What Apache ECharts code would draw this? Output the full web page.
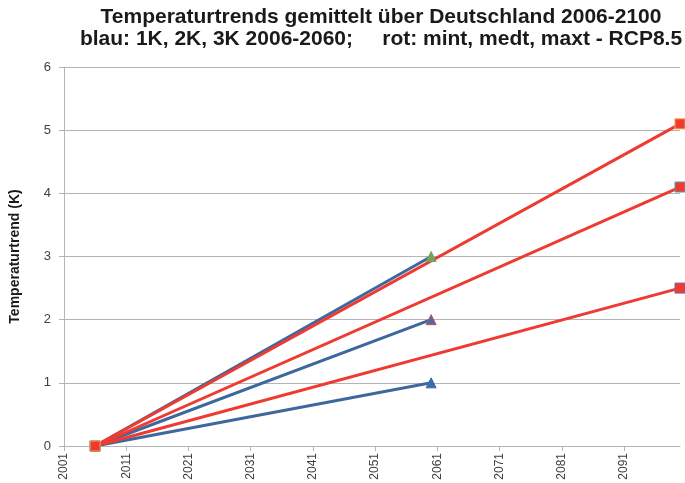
<!DOCTYPE html>
<html>
<head>
<meta charset="utf-8">
<script src="https://cdn.jsdelivr.net/npm/echarts@6/dist/echarts.min.js"></script>
<style>
html,body{margin:0;padding:0;background:#fff;}
#c{width:685px;height:483px;}
</style>
</head>
<body>
<div id="c"></div>
<script>
const xTicks = [2001, 2011, 2021, 2031, 2041, 2051, 2061, 2071, 2081, 2091];
const yTicks = [0, 1, 2, 3, 4, 5, 6];
const blueYears = [2006, 2060];
const redYears = [2006, 2100];
const blue1K = [0, 1];
const blue2K = [0, 2];
const blue3K = [0, 3];
const redMint = [0, 2.5];
const redMedt = [0, 4.1];
const redMaxt = [0, 5.1];

const BLUE = '#3d689d';
const RED = '#ef3a32';
const FONT = 'Liberation Sans, Arial, sans-serif';

function pairs(xs, ys) { return xs.map((x, i) => [x, ys[i]]); }

function mk(name, xs, ys, color, symbol, fill, border, size) {
  return {
    name: name, type: 'line', data: pairs(xs, ys),
    lineStyle: { color: color, width: 3 },
    symbol: symbol, symbolSize: size, showAllSymbol: true,
    itemStyle: { color: fill, borderColor: border, borderWidth: 1 },
    emphasis: { disabled: true }, animation: false, z: 2
  };
}

const chart = echarts.init(document.getElementById('c'), null, { renderer: 'canvas' });
chart.setOption({
  animation: false,
  backgroundColor: '#fff',
  title: {
    text: 'Temperaturtrends gemittelt über Deutschland 2006-2100\nblau: 1K, 2K, 3K 2006-2060;     rot: mint, medt, maxt - RCP8.5',
    left: 376, top: 1, textAlign: 'center',
    textStyle: { fontFamily: FONT, fontSize: 21, fontWeight: 'bold', color: '#1a1a1a', lineHeight: 22 }
  },
  grid: { left: 64, right: 5, top: 67, bottom: 37, containLabel: false },
  xAxis: {
    type: 'value', min: 2001, max: 2100,
    axisLine: { show: true, lineStyle: { color: '#b4b4b4', width: 1 } },
    axisTick: { show: true, customValues: xTicks, length: 5, lineStyle: { color: '#b4b4b4' } },
    axisLabel: { customValues: xTicks, rotate: 90, color: '#404040', fontSize: 12, fontFamily: FONT, margin: 7,
      formatter: function (v) { return String(v); } },
    splitLine: { show: false }
  },
  yAxis: {
    type: 'value', min: 0, max: 6, interval: 1,
    name: 'Temperaturtrend (K)', nameLocation: 'middle', nameGap: 42, nameRotate: 90,
    nameTextStyle: { fontFamily: FONT, fontSize: 14, fontWeight: 'bold', color: '#1a1a1a' },
    axisLine: { show: true, lineStyle: { color: '#b4b4b4', width: 1 } },
    axisTick: { show: true, inside: false, length: 5, lineStyle: { color: '#b4b4b4' } },
    axisLabel: { color: '#404040', fontSize: 13, fontFamily: FONT, margin: 13,
      formatter: function (v) { return String(v); } },
    splitLine: { show: true, lineStyle: { color: '#b4b4b4', width: 1 } }
  },
  series: [
    mk('1K', blueYears, blue1K, BLUE, 'triangle', '#3d6aaa', '#3d6aaa', 10),
    mk('2K', blueYears, blue2K, BLUE, 'triangle', '#4a6aa8', '#c0504d', 10),
    mk('3K', blueYears, blue3K, BLUE, 'triangle', '#7aa060', '#7aa060', 10),
    mk('mint', redYears, redMint, RED, 'rect', RED, '#7b5ea8', 10),
    mk('medt', redYears, redMedt, RED, 'rect', RED, '#4aa0b0', 10),
    mk('maxt', redYears, redMaxt, RED, 'rect', RED, '#f0a040', 10)
  ]
});
</script>
</body>
</html>
